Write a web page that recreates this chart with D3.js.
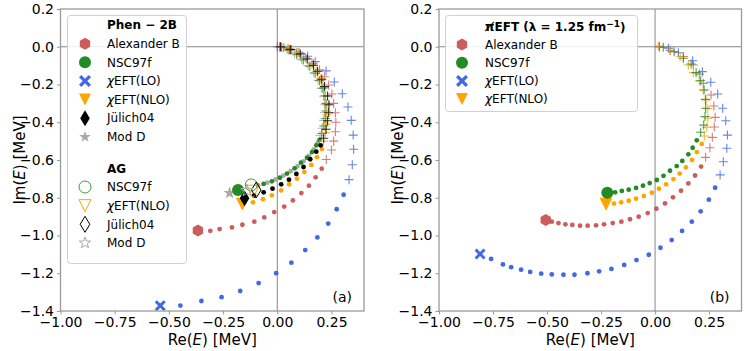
<!DOCTYPE html>
<html><head><meta charset="utf-8">
<script src="https://cdn.jsdelivr.net/npm/d3@7"></script>
<style>
body{margin:0;background:#fff}
text{font-family:"DejaVu Sans",sans-serif;fill:#000}
</style>
</head><body><script>
// tick values
const xTicks = [-1.0, -0.75, -0.5, -0.25, 0.0, 0.25]
const yTicks = [-1.4, -1.2, -1.0, -0.8, -0.6, -0.4, -0.2, 0.0, 0.2]

// ---- panel (a): Phen-2B trajectories, [Re, Im] in MeV ----
const aAlexPlus = [[0.015,0.0],[0.05,-0.012],[0.09,-0.032],[0.13,-0.058],[0.165,-0.088],[0.195,-0.122],[0.217,-0.159],[0.237,-0.203],[0.252,-0.25],[0.26,-0.30],[0.268,-0.35],[0.27,-0.40],[0.268,-0.45],[0.26,-0.5],[0.25,-0.547],[0.226,-0.597]]
const aAlexDots = [[0.205,-0.646],[0.177,-0.692],[0.146,-0.736],[0.111,-0.775],[0.072,-0.814],[0.032,-0.847],[-0.014,-0.876],[-0.06,-0.904],[-0.106,-0.927],[-0.161,-0.943],[-0.209,-0.957],[-0.266,-0.966],[-0.309,-0.975]]
const aAlexEnd = [-0.366,-0.973]

const aNscPlus = [[0.02,-0.002],[0.055,-0.018],[0.09,-0.042],[0.12,-0.07],[0.15,-0.103],[0.175,-0.14],[0.195,-0.18],[0.21,-0.22],[0.22,-0.26],[0.225,-0.30],[0.225,-0.34],[0.222,-0.38],[0.215,-0.42],[0.205,-0.46]]
const aNscDots = [[0.195,-0.494],[0.18,-0.522],[0.16,-0.558],[0.137,-0.588],[0.109,-0.614],[0.08,-0.644],[0.045,-0.672],[0.012,-0.694],[-0.025,-0.713],[-0.063,-0.727]]
const aNscEnd = [-0.181,-0.759]

const aLoPlus = [[0.0,0.0],[0.03,-0.005],[0.065,-0.015],[0.10,-0.03],[0.14,-0.05],[0.175,-0.079],[0.225,-0.128],[0.263,-0.187],[0.30,-0.249],[0.326,-0.319],[0.341,-0.39],[0.35,-0.468],[0.352,-0.543],[0.346,-0.625],[0.331,-0.704]]
const aLoDots = [[0.306,-0.784],[0.274,-0.861],[0.235,-0.937],[0.185,-1.01],[0.129,-1.077],[0.065,-1.144],[-0.005,-1.20],[-0.086,-1.252],[-0.171,-1.294],[-0.257,-1.327],[-0.35,-1.347],[-0.447,-1.371]]
const aLoEnd = [-0.54,-1.372]

const aNloPlus = [[0.01,0.0],[0.05,-0.01],[0.095,-0.03],[0.13,-0.06],[0.16,-0.092],[0.18,-0.13],[0.2,-0.17],[0.213,-0.215],[0.222,-0.26],[0.228,-0.31],[0.228,-0.36],[0.226,-0.41],[0.222,-0.455],[0.213,-0.5]]
const aNloDots = [[0.206,-0.542],[0.183,-0.585],[0.157,-0.626],[0.125,-0.664],[0.091,-0.699],[0.055,-0.729],[0.018,-0.761],[-0.025,-0.787],[-0.066,-0.808],[-0.112,-0.824]]
const aNloEnd = [-0.161,-0.835]

const aJulPlus = [[0.014,0.0],[0.06,-0.014],[0.106,-0.038],[0.138,-0.065],[0.167,-0.098],[0.186,-0.13],[0.205,-0.172],[0.218,-0.211],[0.232,-0.261],[0.238,-0.307],[0.237,-0.35],[0.232,-0.392],[0.225,-0.437],[0.214,-0.485]]
const aJulDots = [[0.2,-0.522],[0.18,-0.556],[0.152,-0.596],[0.121,-0.637],[0.088,-0.674],[0.054,-0.704],[0.018,-0.729],[-0.022,-0.752],[-0.063,-0.771],[-0.107,-0.789]]
const aJulEnd = [-0.151,-0.803]

const aModPlus = [[0.012,-0.004],[0.045,-0.016],[0.08,-0.038],[0.112,-0.066],[0.142,-0.1],[0.168,-0.138],[0.188,-0.178],[0.203,-0.22],[0.213,-0.262],[0.218,-0.305],[0.218,-0.348],[0.214,-0.39],[0.207,-0.432],[0.197,-0.47]]
const aModDots = [[0.186,-0.508],[0.168,-0.544],[0.146,-0.578],[0.121,-0.607],[0.093,-0.633],[0.062,-0.659],[0.028,-0.683],[-0.008,-0.703],[-0.046,-0.72],[-0.088,-0.735],[-0.175,-0.762]]
const aModEnd = [-0.22,-0.775]

// AG points (open markers)
const agNsc = [-0.12,-0.732]
const agNlo = [-0.112,-0.768]
const agJul = [-0.097,-0.759]
const agMod = [-0.14,-0.762]

// ---- panel (b): pionless EFT, lambda = 1.25 fm^-1 ----
const bAlexPlus = [[0.02,0.0],[0.07,-0.02],[0.131,-0.052],[0.177,-0.097],[0.205,-0.145],[0.223,-0.194],[0.259,-0.256],[0.272,-0.314],[0.278,-0.374],[0.274,-0.425],[0.265,-0.48],[0.254,-0.535],[0.234,-0.586]]
const bAlexDots = [[0.213,-0.635],[0.185,-0.682],[0.154,-0.724],[0.12,-0.763],[0.083,-0.798],[0.046,-0.83],[0.006,-0.858],[-0.034,-0.881],[-0.076,-0.9],[-0.116,-0.914],[-0.156,-0.927],[-0.196,-0.934],[-0.236,-0.941],[-0.273,-0.946],[-0.312,-0.948],[-0.347,-0.948],[-0.383,-0.944],[-0.415,-0.941],[-0.447,-0.934],[-0.478,-0.927]]
const bAlexEnd = [-0.506,-0.918]

const bNscPlus = [[0.038,-0.003],[0.088,-0.026],[0.131,-0.061],[0.167,-0.091],[0.19,-0.137],[0.211,-0.18],[0.227,-0.229],[0.233,-0.279],[0.234,-0.326],[0.231,-0.37],[0.225,-0.415],[0.211,-0.453]]
const bNscDots = [[0.193,-0.496],[0.174,-0.535],[0.154,-0.57],[0.126,-0.605],[0.1,-0.632],[0.069,-0.657],[0.039,-0.684],[0.008,-0.706],[-0.025,-0.722],[-0.056,-0.736],[-0.088,-0.748],[-0.122,-0.757],[-0.154,-0.764],[-0.185,-0.771]]
const bNscEnd = [-0.221,-0.773]

const bLoPlus = [[0.02,0.0],[0.062,-0.008],[0.108,-0.032],[0.174,-0.074],[0.219,-0.132],[0.258,-0.188],[0.29,-0.25],[0.313,-0.326],[0.327,-0.392],[0.335,-0.468],[0.332,-0.538],[0.316,-0.609],[0.301,-0.679]]
const bLoDots = [[0.278,-0.747],[0.249,-0.81],[0.211,-0.872],[0.17,-0.927],[0.125,-0.976],[0.077,-1.024],[0.025,-1.065],[-0.029,-1.102],[-0.086,-1.13],[-0.143,-1.156],[-0.202,-1.177],[-0.259,-1.19],[-0.313,-1.2],[-0.373,-1.208],[-0.424,-1.208],[-0.478,-1.206],[-0.527,-1.202],[-0.578,-1.193],[-0.62,-1.181],[-0.666,-1.168],[-0.704,-1.153],[-0.759,-1.124]]
const bLoEnd = [-0.81,-1.098]

const bNloPlus = [[0.015,0.004],[0.069,-0.017],[0.116,-0.053],[0.154,-0.097],[0.177,-0.137],[0.205,-0.181],[0.223,-0.229],[0.236,-0.282],[0.244,-0.328],[0.244,-0.379],[0.239,-0.427],[0.228,-0.473]]
const bNloDots = [[0.216,-0.515],[0.193,-0.558],[0.171,-0.6],[0.143,-0.639],[0.114,-0.672],[0.085,-0.701],[0.051,-0.729],[0.018,-0.752],[-0.015,-0.773],[-0.052,-0.791],[-0.088,-0.805],[-0.122,-0.816],[-0.157,-0.824],[-0.19,-0.831]]
const bNloEnd = [-0.227,-0.835]

// legend labels
const legendA = ["Phen − 2B", "Alexander B", "NSC97f", "χEFT(LO)", "χEFT(NLO)", "Jülich04", "Mod D", "AG", "NSC97f", "χEFT(NLO)", "Jülich04", "Mod D"]
const legendB = ["Alexander B", "NSC97f", "χEFT(LO)", "χEFT(NLO)"]

// ---------- marker shapes ----------
function hexagon(r) {
  var p = []
  for (var k = 0; k < 6; k++) {
    var a = Math.PI / 2 + k * Math.PI / 3
    p.push([r * Math.cos(a), -r * Math.sin(a)])
  }
  return 'M' + p.join('L') + 'Z'
}
function triDown(r) { return `M0,${r}L${-r},${-r}L${r},${-r}Z` }
function thinDiamond(r) { return `M0,${-r}L${r*0.6},0L0,${r}L${-r*0.6},0Z` }
function star(r) {
  var p = []
  for (var k = 0; k < 10; k++) {
    var rr = k % 2 ? r * 0.4 : r
    var a = -Math.PI / 2 + k * Math.PI / 5
    p.push([rr * Math.cos(a), rr * Math.sin(a)])
  }
  return 'M' + p.join('L') + 'Z'
}
function xMark(r) {
  var w = r * 0.38
  return `M${-r+w},${-r}L0,${-w}L${r-w},${-r}L${r},${-r+w}L${w},0L${r},${r-w}L${r-w},${r}L0,${w}L${-r+w},${r}L${-r},${r-w}L${-w},0L${-r},${-r+w}Z`
}
function circle(r) { return d3.symbol(d3.symbolCircle, Math.PI * r * r)() }

const C = {red: '#cd5c5c', green: '#228b22', blue: '#4169e1', orange: '#ffa500', black: '#000', grey: '#a9a9a9'}

const shapes = {
  alex: r => hexagon(r), nsc: r => circle(r), lo: r => xMark(r),
  nlo: r => triDown(r), jul: r => thinDiamond(r), mod: r => star(r)
}
const endSize = {alex: 6, nsc: 6, lo: 5.5, nlo: 6.5, jul: 8, mod: 6.5}

const seriesA = [
  {key: 'mod', color: C.grey, plus: aModPlus, dots: aModDots, end: aModEnd},
  {key: 'alex', color: C.red, plus: aAlexPlus, dots: aAlexDots, end: aAlexEnd},
  {key: 'nsc', color: C.green, plus: aNscPlus, dots: aNscDots, end: aNscEnd},
  {key: 'lo', color: C.blue, plus: aLoPlus, dots: aLoDots, end: aLoEnd},
  {key: 'nlo', color: C.orange, plus: aNloPlus, dots: aNloDots, end: aNloEnd},
  {key: 'jul', color: C.black, plus: aJulPlus, dots: aJulDots, end: aJulEnd}
]
const agA = [
  {key: 'nsc', color: '#3a9a3a', p: agNsc},
  {key: 'nlo', color: C.orange, p: agNlo},
  {key: 'jul', color: C.black, p: agJul},
  {key: 'mod', color: C.grey, p: agMod}
]
const seriesB = [
  {key: 'alex', color: C.red, plus: bAlexPlus, dots: bAlexDots, end: bAlexEnd},
  {key: 'lo', color: C.blue, plus: bLoPlus, dots: bLoDots, end: bLoEnd},
  {key: 'nlo', color: C.orange, plus: bNloPlus, dots: bNloDots, end: bNloEnd},
  {key: 'nsc', color: C.green, plus: bNscPlus, dots: bNscDots, end: bNscEnd}
]

const W = 748, H = 351
const svg = d3.select('body').append('svg').attr('width', W).attr('height', H)

const yScale = d3.scaleLinear().domain([-1.4, 0.2]).range([311, 9])
const xA = d3.scaleLinear().domain([-1.0, 0.4]).range([60.5, 364])
const xB = d3.scaleLinear().domain([-1.0, 0.4]).range([439, 741.5])

function fmt(d, n) { return d3.format('.' + n + 'f')(d) }

function panel(x, label, series, ag) {
  var g = svg.append('g')
  // zero lines
  g.append('line').attr('x1', x(0)).attr('x2', x(0)).attr('y1', yScale.range()[0]).attr('y2', yScale.range()[1])
    .attr('stroke', '#888').attr('stroke-width', 1)
  g.append('line').attr('x1', x.range()[0]).attr('x2', x.range()[1]).attr('y1', yScale(0)).attr('y2', yScale(0))
    .attr('stroke', '#888').attr('stroke-width', 1)

  series.forEach(function(s) {
    g.selectAll(null).data(s.plus).enter().append('path')
      .attr('d', 'M-4.5,0H4.5M0,-4.5V4.5')
      .attr('transform', d => `translate(${x(d[0])},${yScale(d[1])})`)
      .attr('stroke', s.color).attr('stroke-width', 1.1).attr('opacity', 0.8)
    g.selectAll(null).data(s.dots).enter().append('circle')
      .attr('cx', d => x(d[0])).attr('cy', d => yScale(d[1])).attr('r', 2.4)
      .attr('fill', s.color)
    g.append('path').attr('d', shapes[s.key](endSize[s.key]))
      .attr('transform', `translate(${x(s.end[0])},${yScale(s.end[1])})`)
      .attr('fill', s.color)
  })
  if (ag) ag.forEach(function(a) {
    g.append('path').attr('d', shapes[a.key](endSize[a.key]))
      .attr('transform', `translate(${x(a.p[0])},${yScale(a.p[1])})`)
      .attr('fill', 'none').attr('stroke', a.color).attr('stroke-width', 1)
  })

  // frame
  var x0 = x.range()[0], x1 = x.range()[1], y0 = yScale.range()[1], y1 = yScale.range()[0]
  g.append('rect').attr('x', x0).attr('y', y0).attr('width', x1 - x0).attr('height', y1 - y0)
    .attr('fill', 'none').attr('stroke', '#9a9a9a').attr('stroke-width', 1.3)

  var ay = g.append('g').attr('transform', `translate(${x0},0)`)
    .call(d3.axisLeft(yScale).tickValues(yTicks).tickFormat(d => fmt(d, 1)).tickSize(3.5).tickPadding(3))
  var ax = g.append('g').attr('transform', `translate(0,${y1})`)
    .call(d3.axisBottom(x).tickValues(xTicks).tickFormat(d => fmt(d, 2)).tickSize(3.5).tickPadding(3))
  ;[ax, ay].forEach(function(a) {
    a.select('.domain').remove()
    a.selectAll('line').attr('stroke', '#9a9a9a')
    a.selectAll('text').attr('font-size', 14).attr('font-family', '"DejaVu Sans"').attr('fill', '#000')
  })

  // axis titles
  var xl = g.append('text').attr('x', (x0 + x1) / 2).attr('y', 345).attr('text-anchor', 'middle').attr('font-size', 15)
  xl.append('tspan').text('Re(')
  xl.append('tspan').attr('font-style', 'italic').text('E')
  xl.append('tspan').text(') [MeV]')
  var yl = g.append('text').attr('transform', `translate(${x0 - 36},${(y0 + y1) / 2}) rotate(-90)`)
    .attr('text-anchor', 'middle').attr('font-size', 15)
  yl.append('tspan').text('Im(')
  yl.append('tspan').attr('font-style', 'italic').text('E')
  yl.append('tspan').text(') [MeV]')

  g.append('text').attr('x', x1 - 12).attr('y', 302).attr('text-anchor', 'end').attr('font-size', 14).text(label)
}

panel(xA, '(a)', seriesA, agA)
panel(xB, '(b)', seriesB, null)

function legendLabel(t, txt) {
  if (txt.startsWith('χ')) {
    t.append('tspan').attr('font-style', 'italic').text('χ')
    t.append('tspan').text(txt.slice(1))
  } else t.text(txt)
}

// legend (a)
var la = svg.append('g')
la.append('rect').attr('x', 67.5).attr('y', 15.5).attr('width', 119).attr('height', 248).attr('rx', 3)
  .attr('fill', '#fff').attr('fill-opacity', 0.85).attr('stroke', '#d0d0d0')
var keysA = [null, 'alex', 'nsc', 'lo', 'nlo', 'jul', 'mod', null, 'nsc', 'nlo', 'jul', 'mod']
var colA = [null, C.red, C.green, C.blue, C.orange, C.black, C.grey, null, '#3a9a3a', C.orange, C.black, C.grey]
legendA.forEach(function(txt, i) {
  var yy = 25 + i * 18.65 + (i >= 7 ? 12.8 : 0)
  var t = la.append('text').attr('x', 107).attr('y', yy).attr('dy', '0.35em').attr('font-size', 12)
  if (!keysA[i]) { t.attr('font-weight', 'bold').text(txt); return }
  legendLabel(t, txt)
  var open = i > 7
  var r = keysA[i] === 'jul' ? 8 : 6
  la.append('path').attr('d', shapes[keysA[i]](r))
    .attr('transform', `translate(85,${yy})`)
    .attr('fill', open ? 'none' : colA[i]).attr('stroke', open ? colA[i] : 'none').attr('stroke-width', 1)
})

// legend (b)
var lb = svg.append('g')
lb.append('rect').attr('x', 445.5).attr('y', 15.5).attr('width', 192).attr('height', 96).attr('rx', 3)
  .attr('fill', '#fff').attr('fill-opacity', 0.85).attr('stroke', '#d0d0d0')
var tb = lb.append('text').attr('x', 485).attr('y', 26.5).attr('dy', '0.35em').attr('font-size', 12).attr('font-weight', 'bold')
tb.append('tspan').text('π\u0338EFT (λ = 1.25 fm')
tb.append('tspan').attr('dy', '-0.45em').attr('font-size', 9).text('−1')
tb.append('tspan').attr('dy', '0.45em').text(')')
var keysB = ['alex', 'nsc', 'lo', 'nlo']
var colB = [C.red, C.green, C.blue, C.orange]
legendB.forEach(function(txt, i) {
  var yy = 44.5 + i * 18.2
  var t = lb.append('text').attr('x', 485).attr('y', yy).attr('dy', '0.35em').attr('font-size', 12)
  legendLabel(t, txt)
  lb.append('path').attr('d', shapes[keysB[i]](6))
    .attr('transform', `translate(462,${yy})`).attr('fill', colB[i])
})
</script></body></html>
